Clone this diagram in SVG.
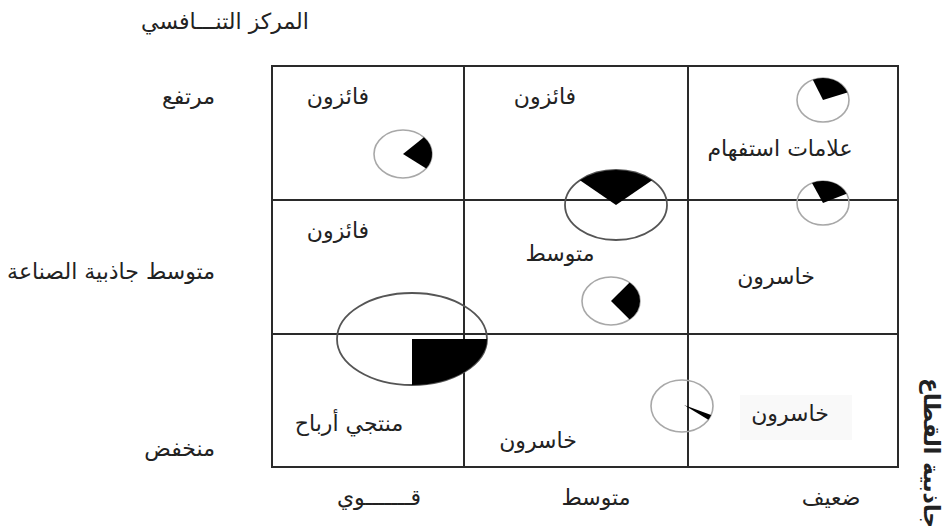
<svg xmlns="http://www.w3.org/2000/svg" width="949" height="531" viewBox="0 0 949 531">
<style>
text{font-family:"DejaVu Sans","Noto Sans",sans-serif;fill:#222;font-size:22px;text-anchor:middle;direction:rtl}
.lbl{fill:#000}
.ra{text-anchor:start}
.grid{stroke:#2a2a2a;stroke-width:2;fill:none}
.sm{fill:none;stroke:#a8a8a8;stroke-width:1.6}
.lg{fill:none;stroke:#555;stroke-width:1.8}
.w{fill:#000}
</style>
<rect width="949" height="531" fill="#fff"/>
<g id="grid" class="grid">
<rect x="272" y="66" width="626" height="401"/>
<line x1="464" y1="66" x2="464" y2="467"/>
<line x1="688" y1="66" x2="688" y2="467"/>
<line x1="272" y1="200" x2="898" y2="200"/>
<line x1="272" y1="334" x2="898" y2="334"/>
</g>
<g id="axis-labels" class="lbl">
<text x="225" y="29" font-size="19">المركز التنـــافسي</text>
<text class="ra" x="215" y="104">مرتفع</text>
<text class="ra" x="215" y="279">متوسط جاذبية الصناعة</text>
<text class="ra" x="215" y="456">منخفض</text>
<text x="379" y="505" font-size="21">قـــــــوي</text>
<text x="596" y="505" font-size="21">متوسط</text>
<text x="831" y="505" font-size="21">ضعيف</text>
<text transform="translate(924,378) rotate(90)" font-size="24" font-weight="bold" style="text-anchor:end">جاذبية القطاع</text>
</g>
<g id="cell-high-strong">
<text x="338" y="104">فائزون</text>
<ellipse class="sm" cx="403" cy="154" rx="29" ry="24"/>
<path class="w" d="M403 154 L423.9 137.3 A29 24 0 0 1 426.2 168.4 Z"/>
</g>
<g id="cell-high-medium">
<text x="545" y="104">فائزون</text>
<ellipse class="lg" cx="616" cy="205" rx="51" ry="35"/>
<path class="w" d="M616 205 L579.9 180.3 A51 35 0 0 1 652.1 180.3 Z"/>
</g>
<g id="cell-high-weak">
<ellipse class="sm" cx="823" cy="100" rx="26" ry="22"/>
<path class="w" d="M823 100 L812.8 79.7 A26 22 0 0 1 847.4 92.5 Z"/>
<text x="780" y="156">علامات استفهام</text>
<ellipse class="sm" cx="823" cy="203" rx="26" ry="22"/>
<path class="w" d="M823 203 L812 183.1 A26 22 0 0 1 846.6 193.7 Z"/>
</g>
<g id="cell-mid-strong">
<text x="338" y="238">فائزون</text>
</g>
<g id="cell-mid-medium">
<text x="560" y="261">متوسط</text>
<ellipse class="sm" cx="611" cy="301" rx="29" ry="24"/>
<path class="w" d="M611 301 L629.6 282.6 A29 24 0 0 1 629.6 319.4 Z"/>
</g>
<g id="cell-mid-weak">
<text x="776" y="284">خاسرون</text>
</g>
<g id="cell-low-strong">
<ellipse class="lg" cx="412" cy="339" rx="75" ry="46"/>
<path class="w" d="M412 339 L487 339 A75 46 0 0 1 412 385 Z"/>
<text x="349" y="431">منتجي أرباح</text>
</g>
<g id="cell-low-medium">
<text x="538" y="448">خاسرون</text>
<ellipse class="sm" cx="682" cy="406" rx="31" ry="26"/>
<path class="w" d="M684 405 L711.1 414.9 A31 26 0 0 1 708.3 419.8 Z"/>
</g>
<g id="cell-low-weak">
<rect x="740" y="395" width="112" height="45" fill="#f9f9f9"/>
<text x="790" y="421">خاسرون</text>
</g>
</svg>
